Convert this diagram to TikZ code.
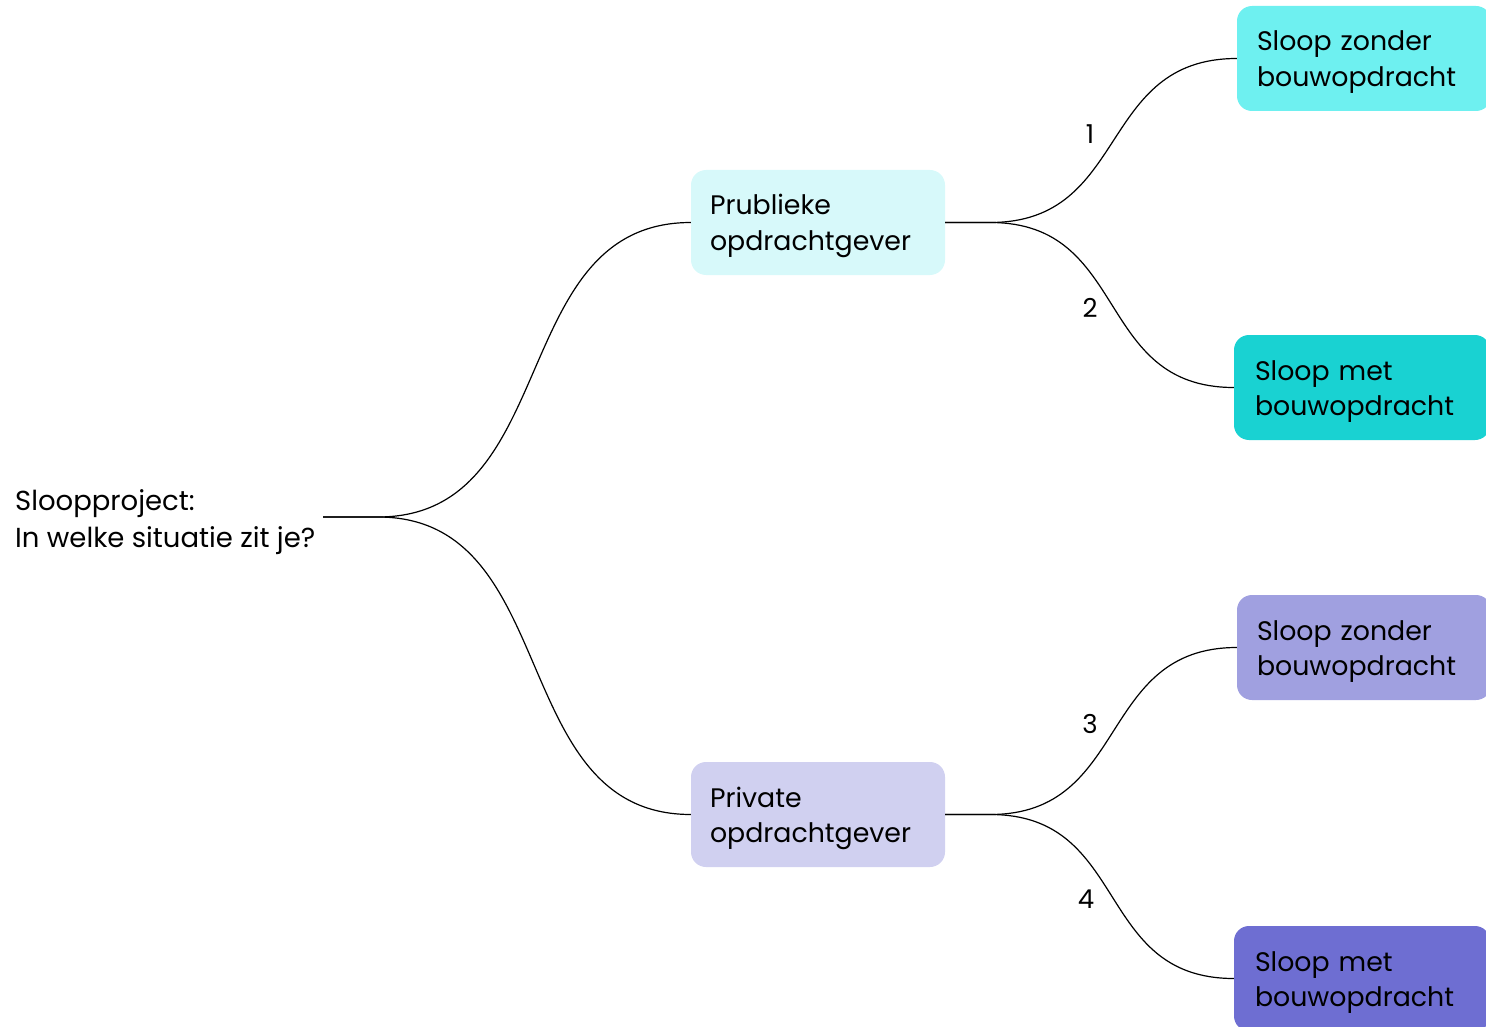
\documentclass[tikz,border=0pt]{standalone}
\usepackage{fontspec}
\setmainfont{Poppins}
\definecolor{cpub}{HTML}{D7F9FA}
\definecolor{cpriv}{HTML}{D0D0F0}
\definecolor{cone}{HTML}{6EF0F0}
\definecolor{ctwo}{HTML}{19D2D2}
\definecolor{cthree}{HTML}{A0A0E0}
\definecolor{cfour}{HTML}{6E6ED2}
\tikzset{
  box/.style={rounded corners=15pt, text height=45pt, text depth=60pt, text width=216pt,
    inner xsep=19pt, inner ysep=0pt, align=left, font=\fontsize{26.8}{35.5}\selectfont},
  rbox/.style={box, text width=214pt, inner xsep=20pt},
  conn/.style={line width=1.2pt, black},
  lbl/.style={font=\fontsize{26}{30}\selectfont, inner sep=0pt}
}
\begin{document}
\begin{tikzpicture}[x=1pt,y=-1pt]
\useasboundingbox (0,0) rectangle (1486,1027);
\node[anchor=west, align=left, inner sep=0pt, font=\fontsize{27.5}{36.5}\selectfont] (root) at (15,522) {Sloopproject:\\In welke situatie zit je?};
\coordinate (rs) at (323,517);
\node[box, fill=cpub] (pub) at (818,222.5) {Prublieke\\opdrachtgever};
\node[box, fill=cpriv] (priv) at (818,814.5) {Private\\opdrachtgever};
\node[rbox, fill=cone] (b1) at (1364,58.5) {Sloop zonder\\bouwopdracht};
\node[rbox, fill=ctwo, minimum width=256pt] (b2) at (1362,387.5) {Sloop met\\bouwopdracht};
\node[rbox, fill=cthree] (b3) at (1364,647.5) {Sloop zonder\\bouwopdracht};
\node[rbox, fill=cfour, minimum width=256pt] (b4) at (1362,978.5) {Sloop met\\bouwopdracht};
\draw[conn] (rs) -- ++(55,0) .. controls +(185,0) and +(-185,0) .. (pub.west);
\draw[conn] (rs) -- ++(55,0) .. controls +(185,0) and +(-185,0) .. (priv.west);
\draw[conn] (pub.east) -- ++(45,0) .. controls +(140,0) and +(-140,0) .. (b1.west);
\draw[conn] (pub.east) -- ++(45,0) .. controls +(140,0) and +(-140,0) .. (b2.west);
\draw[conn] (priv.east) -- ++(45,0) .. controls +(140,0) and +(-140,0) .. (b3.west);
\draw[conn] (priv.east) -- ++(45,0) .. controls +(140,0) and +(-140,0) .. (b4.west);
\node[lbl] (l1) at (1090,134) {1};
\node[lbl] (l2) at (1090,308) {2};
\node[lbl] (l3) at (1090,724) {3};
\node[lbl] (l4) at (1086,899) {4};
\end{tikzpicture}
\end{document}
